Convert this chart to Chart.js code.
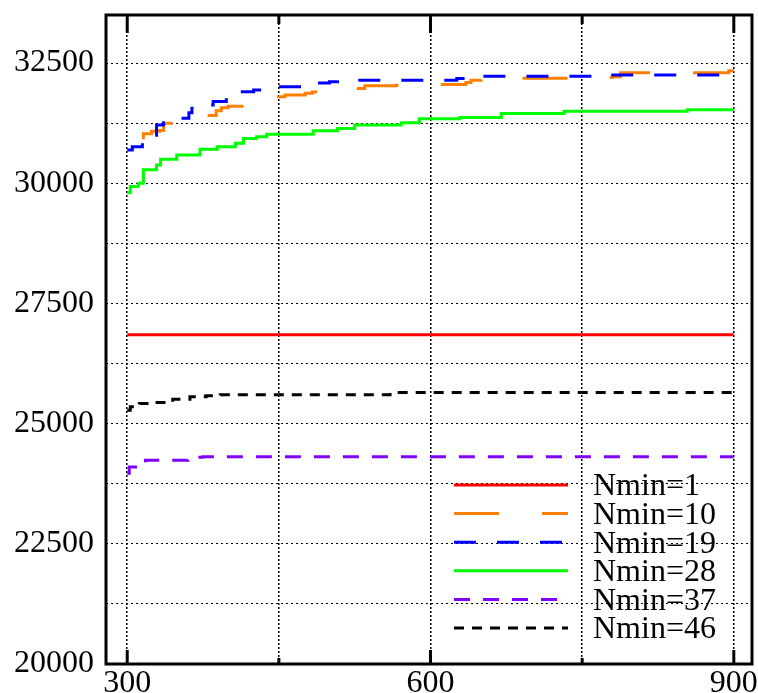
<!DOCTYPE html>
<html>
<head>
<meta charset="utf-8">
<script src="https://cdn.jsdelivr.net/npm/chart.js@4"></script>
<style>
  html, body { margin: 0; padding: 0; background: #fff; }
  canvas { display: block; }
</style>
</head>
<body>
<canvas id="chart" width="758" height="693"></canvas>
<script>
// step curves, values: each y holds from its x until the next x
const xN1 = [300, 900]
const yN1 = [26850, 26850]

const xN10 = [300, 303, 308, 313, 316, 324, 332, 336, 349, 361, 369, 388, 393, 400, 436, 437, 456, 476, 483, 522, 535, 566, 607, 635, 640, 650, 693, 737, 780, 788, 865, 895, 900]
const yN10 = [30630, 30760, 30850, 30900, 31030, 31080, 31100, 31250, 31300, 31364, 31412, 31508, 31570, 31600, 31695, 31800, 31835, 31870, 31900, 31971, 32027, 32040, 32054, 32096, 32145, 32185, 32185, 32200, 32216, 32299, 32299, 32341, 32341]

const xN19 = [300, 305, 315, 320, 329, 336, 344, 352, 361, 364, 371, 385, 398, 405, 411, 425, 438, 448, 481, 500, 525, 566, 626, 651, 762, 900]
const yN19 = [30690, 30760, 30865, 31000, 31211, 31260, 31295, 31350, 31468, 31558, 31627, 31700, 31800, 31849, 31905, 31940, 31971, 32005, 32088, 32110, 32145, 32145, 32180, 32225, 32250, 32250]

const xN28 = [300, 303, 311, 316, 329, 333, 349, 372, 389, 407, 415, 428, 438, 484, 508, 525, 571, 589, 629, 670, 732, 854, 900]
const yN28 = [29800, 29930, 30000, 30280, 30380, 30500, 30590, 30710, 30760, 30830, 30930, 30970, 31020, 31090, 31140, 31210, 31260, 31340, 31370, 31450, 31500, 31530, 31530]

const xN37 = [300, 302, 318, 360, 375, 900]
const yN37 = [23970, 24100, 24240, 24300, 24310, 24310]

const xN46 = [300, 303, 312, 328, 345, 362, 378, 392, 560, 900]
const yN46 = [25280, 25350, 25420, 25440, 25505, 25560, 25580, 25600, 25645, 25645]

const xTicks = [300, 450, 600, 750, 900]
const yTicks = [20000, 21250, 22500, 23750, 25000, 26250, 27500, 28750, 30000, 31250, 32500]
const xLabelStep = 300
const yLabelStep = 2500

const series = [
  { label: 'Nmin=1',  xs: xN1,  ys: yN1,  color: '#ff0000', dash: [],       offset: 0,  order: 1 },
  { label: 'Nmin=10', xs: xN10, ys: yN10, color: '#ff8000', dash: [45, 43], offset: 58, order: 1 },
  { label: 'Nmin=19', xs: xN19, ys: yN19, color: '#0000ff', dash: [22, 21], offset: 0,  order: 0 },
  { label: 'Nmin=28', xs: xN28, ys: yN28, color: '#00ff00', dash: [],       offset: 0,  order: 1 },
  { label: 'Nmin=37', xs: xN37, ys: yN37, color: '#8000ff', dash: [16, 13], offset: 0,  order: 1 },
  { label: 'Nmin=46', xs: xN46, ys: yN46, color: '#000000', dash: [10, 8],  offset: 0,  order: 1 }
]

const serif = 'Liberation Serif'

// box round the plot plus inward tick marks top and bottom
const framePlugin = {
  id: 'frame',
  afterDatasetsDraw(chart) {
    const { ctx, chartArea: a, scales: { x } } = chart
    ctx.save()
    ctx.strokeStyle = '#000'
    ctx.lineWidth = 3
    ctx.strokeRect(a.left, a.top, a.right - a.left, a.bottom - a.top)
    xTicks.forEach(v => {
      const px = x.getPixelForValue(v)
      const major = v % xLabelStep === 0
      ctx.beginPath()
      ctx.moveTo(px, a.bottom)
      ctx.lineTo(px, a.bottom - (major ? 14 : 6))
      ctx.moveTo(px, a.top)
      ctx.lineTo(px, a.top + (major ? 18 : 9))
      ctx.stroke()
    })
    ctx.restore()
  }
}

// legend sits inside the plot, lower right
const legendPlugin = {
  id: 'insideLegend',
  afterDraw(chart) {
    const { ctx } = chart
    ctx.save()
    ctx.font = '32px "' + serif + '"'
    ctx.textBaseline = 'middle'
    ctx.fillStyle = '#000'
    chart.data.datasets.forEach((ds, i) => {
      const y = 485 + i * 28.6
      ctx.strokeStyle = ds.borderColor
      ctx.lineWidth = 3
      ctx.setLineDash(ds.borderDash)
      ctx.beginPath()
      ctx.moveTo(454, y)
      ctx.lineTo(568, y)
      ctx.stroke()
      ctx.setLineDash([])
      ctx.fillText(ds.label, 593, y + 2)
    })
    ctx.restore()
  }
}

new Chart(document.getElementById('chart'), {
  type: 'line',
  data: {
    datasets: series.map(s => ({
      label: s.label,
      data: s.xs.map((x, i) => ({ x: x, y: s.ys[i] })),
      borderColor: s.color,
      borderWidth: 3,
      borderDash: s.dash,
      borderDashOffset: s.offset,
      order: s.order,
      stepped: true,
      pointRadius: 0,
      fill: false
    }))
  },
  options: {
    responsive: false,
    animation: false,
    layout: { padding: { left: 0, right: 6, top: 15, bottom: 0 } },
    plugins: { legend: { display: false }, tooltip: { enabled: false } },
    scales: {
      x: {
        type: 'linear',
        min: 279,
        max: 918,
        afterBuildTicks: s => { s.ticks = xTicks.map(v => ({ value: v })) },
        afterFit: s => { s.height = 29; s.paddingLeft = 0; s.paddingRight = 0 },
        ticks: {
          autoSkip: false,
          maxRotation: 0,
          padding: 0,
          color: '#000',
          font: { family: serif, size: 32 },
          callback: v => (v % xLabelStep === 0 ? String(v) : '')
        },
        grid: { color: '#000', lineWidth: 1.5, drawTicks: false },
        border: { display: false, dash: [2, 2] }
      },
      y: {
        type: 'linear',
        min: 20000,
        max: 33500,
        // explicit ticks: with stepSize and both bounds set Chart.js spreads them evenly instead
        afterBuildTicks: s => { s.ticks = yTicks.map(v => ({ value: v })) },
        afterFit: s => { s.width = 106; s.paddingTop = 0; s.paddingBottom = 0 },
        ticks: {
          autoSkip: false,
          padding: 12,
          color: '#000',
          font: { family: serif, size: 32 },
          callback: v => (v % yLabelStep === 0 ? String(v) : '')
        },
        grid: { color: '#000', lineWidth: 1, drawTicks: false },
        border: { display: false, dash: [2, 3] }
      }
    }
  },
  plugins: [framePlugin, legendPlugin]
})
</script>
</body>
</html>
